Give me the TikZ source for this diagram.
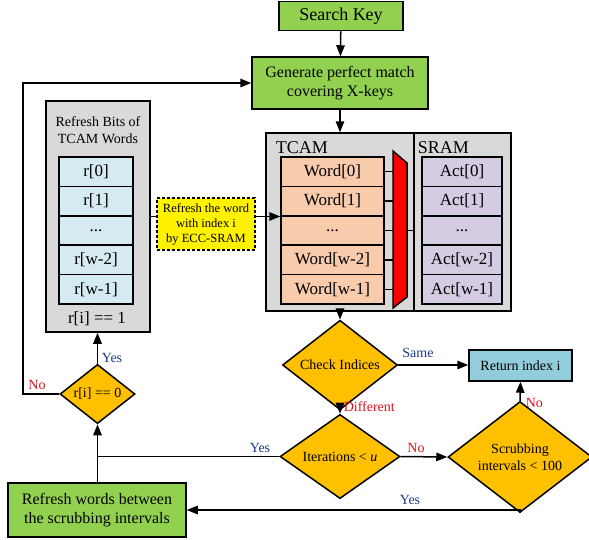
\documentclass[tikz,border=0pt]{standalone}
\usepackage{fontspec}
\setmainfont{Liberation Serif}
\usetikzlibrary{shapes.geometric,arrows.meta}
\definecolor{grn}{HTML}{92D050}
\definecolor{orng}{HTML}{FFC000}
\definecolor{gry}{HTML}{D9D9D9}
\definecolor{cyanc}{HTML}{D6EBF1}
\definecolor{peach}{HTML}{F8CBAD}
\definecolor{lav}{HTML}{D5CCE3}
\definecolor{retc}{HTML}{92CDDC}
\definecolor{lblue}{HTML}{1F3A8A}
\definecolor{lred}{HTML}{E0101A}
\begin{document}
\begin{tikzpicture}[x=1pt,y=-1pt,line width=1.5pt,
  box/.style={draw,rectangle,inner sep=0pt,align=center},
  cellr/.style={box,fill=cyanc,minimum width=74pt,minimum height=29.4pt,font=\fontsize{17}{19}\selectfont},
  cellw/.style={box,fill=peach,minimum width=103pt,minimum height=29.4pt,font=\fontsize{17}{19}\selectfont},
  cella/.style={box,fill=lav,minimum width=80pt,minimum height=29.4pt,font=\fontsize{17}{19}\selectfont},
  dia/.style={draw,diamond,fill=orng,inner sep=0pt,align=center,font=\fontsize{14}{16}\selectfont},
  arr/.style={-{Triangle[length=11pt,width=8.5pt]}},
  lblb/.style={text=lblue,inner sep=0pt,font=\fontsize{14}{16}\selectfont},
  lblr/.style={text=lred,inner sep=0pt,font=\fontsize{14}{16}\selectfont}]
\useasboundingbox (0,0) rectangle (589,539);

% top boxes
\node[box,fill=grn,minimum width=124pt,minimum height=29pt,font=\fontsize{18}{20}\selectfont] (search) at (341,16) {Search Key};
\node[box,fill=grn,minimum width=176pt,minimum height=52pt,font=\fontsize{16}{18.5}\selectfont] (gen) at (340,83) {Generate perfect match\\covering X-keys};

% refresh bits box
\node[box,fill=gry,minimum width=104pt,minimum height=231pt] (refbox) at (98,216.5) {};
\node[align=center,inner sep=0pt,font=\fontsize{14}{17}\selectfont] (reft) at (98,130.5) {Refresh Bits of\\TCAM Words};
\node[cellr] (r0) at (96,171.7) {r[0]};
\node[cellr] (r1) at (96,201.1) {r[1]};
\node[cellr] (r2) at (96,230.5) {...};
\node[cellr] (r3) at (96,259.9) {r[w-2]};
\node[cellr] (r4) at (96,289.3) {r[w-1]};
\node[inner sep=0pt,font=\fontsize{17}{19}\selectfont] (rl) at (97,319) {r[i] == 1};

% TCAM / SRAM
\node[box,fill=gry,minimum width=148pt,minimum height=178pt] (tcam) at (340,222) {};
\node[box,fill=gry,minimum width=97pt,minimum height=178pt] (sram) at (462.5,222) {};
\node[anchor=west,inner sep=0pt,font=\fontsize{18}{20}\selectfont] (tl) at (275,148) {TCAM};
\node[anchor=west,inner sep=0pt,font=\fontsize{18}{20}\selectfont] (sl) at (417,148) {SRAM};
\node[cellw] (w0) at (332.5,171.7) {Word[0]};
\node[cellw] (w1) at (332.5,201.1) {Word[1]};
\node[cellw] (w2) at (332.5,230.5) {...};
\node[cellw] (w3) at (332.5,259.9) {Word[w-2]};
\node[cellw] (w4) at (332.5,289.3) {Word[w-1]};
\node[cella] (a0) at (462,171.7) {Act[0]};
\node[cella] (a1) at (462,201.1) {Act[1]};
\node[cella] (a2) at (462,230.5) {...};
\node[cella] (a3) at (462,259.9) {Act[w-2]};
\node[cella] (a4) at (462,289.3) {Act[w-1]};
\coordinate (mx) at (393,230.5);
\foreach \w in {w0,w1,w2,w3,w4} \draw (\w.east) -- (\w.east -| mx);
\draw (407,230.5) -- (sram.west |- mx);
\draw[fill=red] (393,151) -- (407,163) -- (407,297) -- (393,308) -- cycle;

% yellow refresh
\draw[arr] (refbox.east) -- (refbox.east -| w2.west);
\node[box,fill=yellow,dashed,dash pattern=on 3pt off 2pt,line width=1.6pt,minimum width=98pt,minimum height=52pt,font=\fontsize{12.5}{15}\selectfont] (yel) at (206,224) {Refresh the word\\with index i\\by ECC-SRAM};

% flow
\draw[arr] (search) -- (gen);
\draw[arr] (gen) -- (tcam);
\node[dia,minimum width=115pt,minimum height=66pt] (chk) at (340,365) {Check Indices};
\draw[arr] (tcam.south) -- (chk.north);
\node[box,fill=retc,minimum width=103pt,minimum height=31pt,font=\fontsize{14}{16}\selectfont] (ret) at (520.5,365.5) {Return index i};
\draw[arr] (chk.east) -- (chk.east -| ret.west);
\node[lblb] (same) at (418,353) {Same};
\node[dia,minimum width=120pt,minimum height=59pt] (it) at (340,456.5) {Iterations < \textit{u}};
\draw[arr] (chk.south) -- (it.north);
\node[lblr,anchor=west] (diff) at (343,407) {Different};
\node[dia,minimum width=144pt,minimum height=88pt,font=\fontsize{14}{17}\selectfont] (scr) at (520,457) {Scrubbing\\intervals < 100};
\draw[arr] (it.east) -- (scr.west);
\node[lblr] (no2) at (416,448) {No};
\draw[arr] (scr.north) -- (ret.south);
\node[lblr,anchor=west] (no3) at (525,403) {No};
\node[box,fill=grn,minimum width=178pt,minimum height=54pt,font=\fontsize{16}{19}\selectfont] (bot) at (97,510) {Refresh words between\\the scrubbing intervals};
\draw[arr] (scr.south) |- (bot.east);
\node[lblb] (yes3) at (410,500) {Yes};

\node[dia,minimum width=75pt,minimum height=48pt] (rz) at (97.5,394) {r[i] == 0};
\draw[arr] (rz.north) -- (refbox.south -| rz.north);
\node[lblb] (yes1) at (112,358) {Yes};
\draw[arr] (rz.south |- bot.north) -- (rz.south);
\draw (it.west) -- (it.west -| rz.south);
\node[lblb] (yes2) at (260,448) {Yes};
\coordinate (loopc) at (23,83);
\draw[arr] (rz.west) -| (loopc) -- (gen.west);
\node[lblr] (no1) at (37,385) {No};
\end{tikzpicture}
\end{document}
